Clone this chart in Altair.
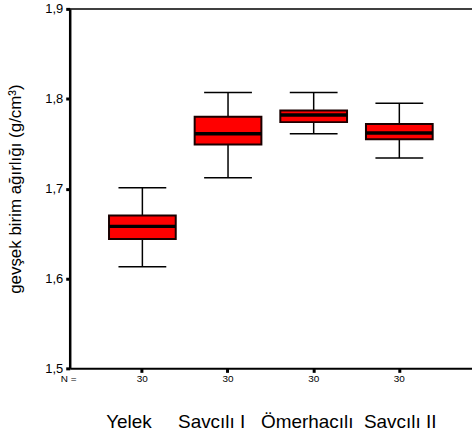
import altair as alt
import pandas as pd

categories = ["Yelek", "Savcılı I", "Ömerhacılı", "Savcılı II"]
n_values = [30, 30, 30, 30]
whisker_low = [1.613, 1.712, 1.761, 1.734]
q1 = [1.644, 1.749, 1.774, 1.755]
median = [1.658, 1.761, 1.782, 1.762]
q3 = [1.670, 1.780, 1.787, 1.772]
whisker_high = [1.701, 1.807, 1.807, 1.795]

df = pd.DataFrame({
    "cat": categories, "n": [str(v) for v in n_values],
    "lo": whisker_low, "q1": q1, "med": median, "q3": q3, "hi": whisker_high,
})

FONT = "Liberation Sans"
W, H = 404, 361

xscale = alt.Scale(domain=categories, paddingInner=0.221, paddingOuter=0.459)
yscale = alt.Scale(domain=[1.5, 1.9], nice=False, zero=False)

NB = "\u00a0"
gaps = [NB * 5, NB * 3, NB * 2]
x_title = categories[0] + gaps[0] + categories[1] + gaps[1] + categories[2] + gaps[2] + categories[3]

xaxis = alt.Axis(title=x_title, titleFont=FONT, titleFontSize=19, titleFontWeight="normal",
                 titleColor="black", titlePadding=39, labels=False,
                 tickSize=4, tickWidth=3, tickColor="black",
                 domainColor="black", domainWidth=2)
yaxis = alt.Axis(title="gevşek birim ağırlığı (g/cm³)", titleFont=FONT, titleFontSize=17,
                 titleFontWeight="normal", titleColor="black", titlePadding=20,
                 labelFont=FONT, labelFontSize=13, labelColor="black",
                 values=[1.5, 1.6, 1.7, 1.8, 1.9],
                 labelExpr="replace(format(datum.value, '.1f'), '.', ',')",
                 tickSize=4, tickWidth=3, tickColor="black", labelPadding=3,
                 domainColor="black", domainWidth=2.5, grid=False)

base = alt.Chart(df)
X = alt.X("cat:N", scale=xscale, axis=xaxis, sort=categories)

whisk_lo = base.mark_rule(color="black", strokeWidth=1.5).encode(
    x=X, y=alt.Y("lo:Q", scale=yscale, axis=yaxis), y2="q1:Q")
whisk_hi = base.mark_rule(color="black", strokeWidth=1.5).encode(
    x=X, y=alt.Y("q3:Q", scale=yscale), y2="hi:Q")
cap_lo = base.mark_tick(color="black", size=48, thickness=1.5, opacity=1).encode(
    x=X, y=alt.Y("lo:Q", scale=yscale))
cap_hi = base.mark_tick(color="black", size=48, thickness=1.5, opacity=1).encode(
    x=X, y=alt.Y("hi:Q", scale=yscale))
box = base.mark_bar(fill="#ff0000", stroke="#1a0000", strokeWidth=2, opacity=1).encode(
    x=X, y=alt.Y("q1:Q", scale=yscale), y2="q3:Q")
med = base.mark_tick(color="black", size=67, thickness=3.5, opacity=1).encode(
    x=X, y=alt.Y("med:Q", scale=yscale))
ntext = base.mark_text(font=FONT, fontSize=10, color="black", baseline="middle").encode(
    x=X, y=alt.value(H + 11), text="n:N")
nlabel = alt.Chart(pd.DataFrame({"t": ["N ="]})).mark_text(
    font=FONT, fontSize=10, color="black", baseline="middle").encode(
    x=alt.value(-1), y=alt.value(H + 11), text="t:N")
top_line = alt.Chart(pd.DataFrame({"t": [0]})).mark_rule(color="black", strokeWidth=1.5).encode(
    x=alt.value(0), x2=alt.value(W + 10), y=alt.value(0))

chart = alt.layer(top_line, whisk_lo, whisk_hi, cap_lo, cap_hi, box, med, ntext, nlabel).properties(
    width=W, height=H,
    autosize=alt.AutoSizeParams(type="none"),
    padding={"left": 70, "top": 8, "right": 0, "bottom": 67},
    background="white",
).configure_view(stroke=None)

chart.save("out.html", embed_options={"renderer": "svg", "actions": False})
